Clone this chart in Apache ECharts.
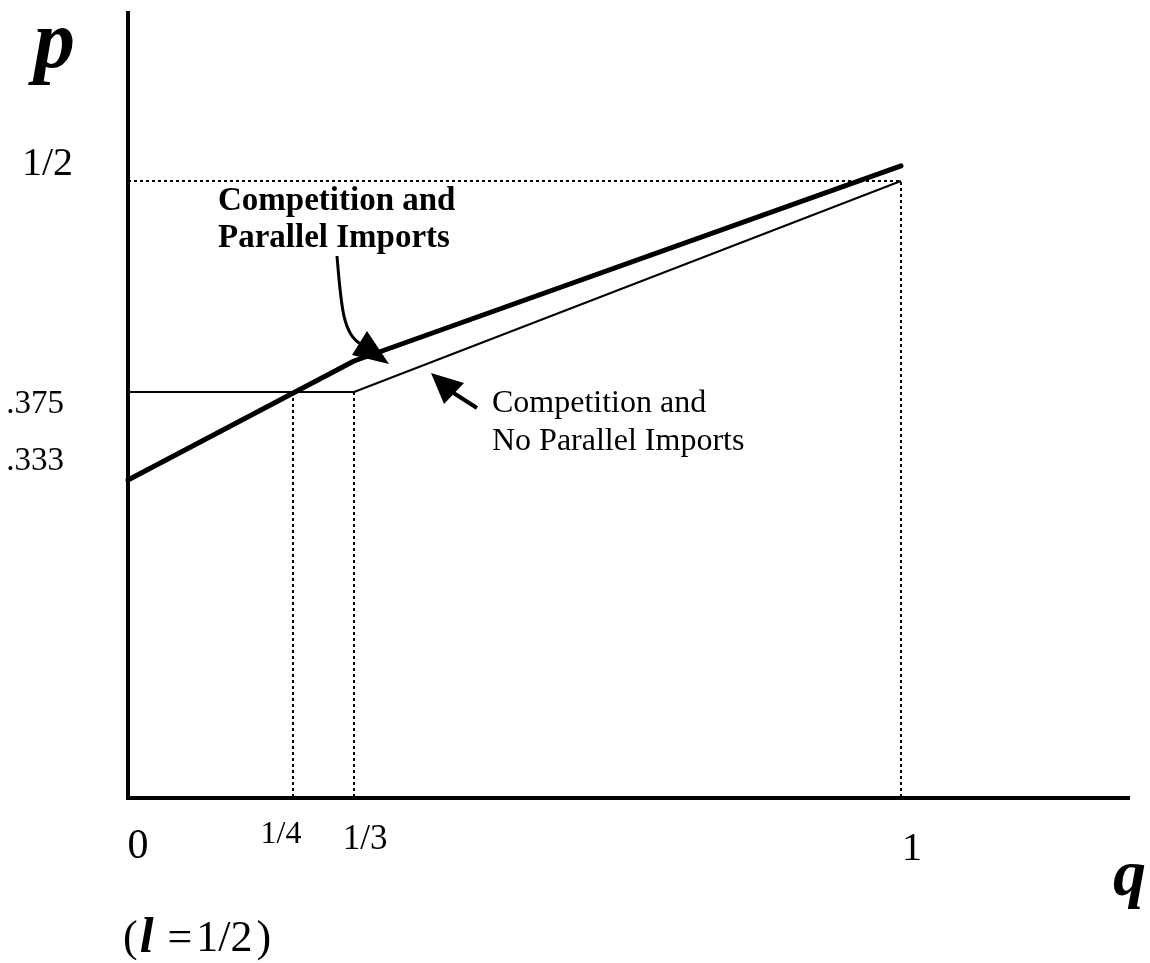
<!DOCTYPE html>
<html><head><meta charset="utf-8">
<script src="https://cdn.jsdelivr.net/npm/echarts@6/dist/echarts.min.js"></script>
<style>html,body{margin:0;padding:0;background:#fff}#c{width:1150px;height:963px}</style>
</head><body><div id="c"></div>
<script>
// ---- data (schematic drawing units: q=1 -> 1, p=1/2 -> 0.5) ----
const xTickPos = [0, 0.2135, 0.2924, 1];
const xTickLabels = ['0', '1/4', '1/3', '1'];
const yTickPos = [0.5, 0.329, 0.2577];
const yTickLabels = ['1/2', '.375', '.333'];
// Competition and Parallel Imports (thick)
const parallelQ = [0, 0.2924, 1];
const parallelP = [0.2577, 0.3541, 0.5122];
// Competition and No Parallel Imports (thin)
const noParallelQ = [0, 0.2924, 1];
const noParallelP = [0.329, 0.329, 0.5];
const xMax = 1.2937, yMax = 0.6361;

const FONT = 'Liberation Serif';
const zip = (a, b) => a.map((v, i) => [v, b[i]]);

const xRich = {
  x0: {fontSize: 42, padding: [10, 0, 0, 20]},
  x1: {fontSize: 32, padding: [0, 24, 14, 0]},
  x2: {fontSize: 35, padding: [0, 0, 4, 22]},
  x3: {fontSize: 41, padding: [14, 0, 0, 22]}
};
const yRich = {
  y0: {fontSize: 40, padding: [0, 0, 32, 0]},
  y1: {fontSize: 33, padding: [24, 9, 0, 0]},
  y2: {fontSize: 33, padding: [0, 9, 38, 0]}
};
for (const k in xRich) Object.assign(xRich[k], {fontFamily: FONT, color: '#000'});
for (const k in yRich) Object.assign(yRich[k], {fontFamily: FONT, color: '#000'});

const chart = echarts.init(document.getElementById('c'), null, {renderer: 'canvas'});
const dotted = {color: '#000', width: 2, type: [3, 3]};

chart.setOption({
  animation: false,
  backgroundColor: '#fff',
  grid: {left: 128, top: 13, width: 1000, height: 785, containLabel: false, outerBoundsMode: 'none'},
  xAxis: {
    type: 'value', min: 0, max: xMax,
    axisLine: {show: true, onZero: false, lineStyle: {color: '#000', width: 4, cap: 'square'}},
    axisTick: {show: false},
    splitLine: {show: false},
    axisLabel: {
      customValues: xTickPos, margin: 44, verticalAlign: 'middle',
      formatter: v => { const i = xTickPos.findIndex(t => Math.abs(t - v) < 1e-6); return i < 0 ? '' : `{x${i}|${xTickLabels[i]}}`; },
      rich: xRich
    }
  },
  yAxis: {
    type: 'value', min: 0, max: yMax,
    axisLine: {show: true, onZero: false, lineStyle: {color: '#000', width: 4, cap: 'square'}},
    axisTick: {show: false},
    splitLine: {show: false},
    axisLabel: {
      customValues: yTickPos, margin: 55, align: 'right', verticalAlign: 'middle',
      formatter: v => { const i = yTickPos.findIndex(t => Math.abs(t - v) < 1e-6); return i < 0 ? '' : `{y${i}|${yTickLabels[i]}}`; },
      rich: yRich
    }
  },
  series: [
    {type: 'line', name: 'guide p=1/2, q=1', data: [[0, yTickPos[0]], [xTickPos[3], yTickPos[0]], [xTickPos[3], 0]],
     showSymbol: false, silent: true, lineStyle: dotted, z: 1},
    {type: 'line', name: 'guide q=1/4', data: [[xTickPos[1], yTickPos[1]], [xTickPos[1], 0]],
     showSymbol: false, silent: true, lineStyle: dotted, z: 1},
    {type: 'line', name: 'guide q=1/3', data: [[xTickPos[2], yTickPos[1]], [xTickPos[2], 0]],
     showSymbol: false, silent: true, lineStyle: dotted, z: 1},
    {type: 'line', name: 'Competition and No Parallel Imports', data: zip(noParallelQ, noParallelP),
     showSymbol: false, silent: true, lineStyle: {color: '#000', width: 2}, z: 2},
    {type: 'line', name: 'Competition and Parallel Imports', data: zip(parallelQ, parallelP),
     showSymbol: false, silent: true, lineStyle: {color: '#000', width: 5, cap: 'round', join: 'round'}, z: 3}
  ],
  graphic: [
    {type: 'text', left: 34, top: 5, style: {text: 'p', font: `italic bold 82px "${FONT}"`, fill: '#000'}},
    {type: 'text', x: 1113, y: 878, style: {text: 'q', font: `italic bold 66px "${FONT}"`, fill: '#000', verticalAlign: 'middle'}},
    {type: 'text', x: 218, y: 183, style: {text: 'Competition and\nParallel Imports', font: `bold 33px "${FONT}"`, lineHeight: 37, fill: '#000', verticalAlign: 'top'}},
    {type: 'text', x: 492, y: 385, style: {text: 'Competition and\nNo Parallel Imports', font: `32px "${FONT}"`, lineHeight: 38, fill: '#000', verticalAlign: 'top'}},
    {type: 'text', x: 123, y: 939, style: {
      text: '{p|(}{l|l}{e|=}{n|1/2}{r|)}', verticalAlign: 'middle',
      rich: {
        p: {fontFamily: FONT, fontSize: 44, fill: '#000'},
        l: {fontFamily: FONT, fontSize: 50, fontWeight: 'bold', fontStyle: 'italic', fill: '#000', padding: [0, 0, 0, 2]},
        e: {fontFamily: FONT, fontSize: 44, fill: '#000', padding: [0, 2, 0, 14]},
        n: {fontFamily: FONT, fontSize: 44, fill: '#000', padding: [0, 4, 0, 2]},
        r: {fontFamily: FONT, fontSize: 44, fill: '#000'}
      }}},
    // curved arrow to thick line
    {type: 'bezierCurve', shape: {x1: 337, y1: 256, cpx1: 341, cpy1: 305, cpx2: 343, cpy2: 335, x2: 361, y2: 344},
     style: {stroke: '#000', lineWidth: 3, fill: null}},
    {type: 'polygon', shape: {points: [[389, 364], [367, 331], [352, 355]]}, style: {fill: '#000'}},
    // straight arrow to thin line
    {type: 'line', shape: {x1: 477, y1: 408, x2: 452, y2: 392}, style: {stroke: '#000', lineWidth: 4}},
    {type: 'polygon', shape: {points: [[431, 373], [444, 404], [464, 383]]}, style: {fill: '#000'}}
  ]
});
</script></body></html>
